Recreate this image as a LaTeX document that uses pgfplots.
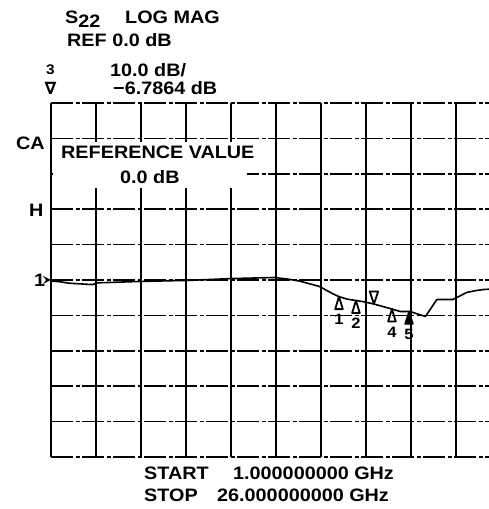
\documentclass[border=0pt]{standalone}
\usepackage{pgfplots}
\pgfplotsset{compat=1.18}
\usepackage{fontspec}
\setmainfont{Liberation Sans}[FakeStretch=1.1]
\newfontfamily\dejavu{DejaVu Sans}

% marker shapes: apex on the trace
\pgfdeclareplotmark{mkup}{%
  \pgfpathmoveto{\pgfpoint{0pt}{0pt}}%
  \pgfpathlineto{\pgfpoint{-3.8pt}{-12.5pt}}%
  \pgfpathlineto{\pgfpoint{3.8pt}{-12.5pt}}%
  \pgfpathclose\pgfusepathqstroke}
\pgfdeclareplotmark{mkupfill}{%
  \pgfpathmoveto{\pgfpoint{0pt}{0pt}}%
  \pgfpathlineto{\pgfpoint{-4pt}{-12.5pt}}%
  \pgfpathlineto{\pgfpoint{4pt}{-12.5pt}}%
  \pgfpathclose\pgfusepathqfillstroke}
\pgfdeclareplotmark{mkdown}{%
  \pgfpathmoveto{\pgfpoint{0pt}{0pt}}%
  \pgfpathlineto{\pgfpoint{-4.2pt}{12.5pt}}%
  \pgfpathlineto{\pgfpoint{4.2pt}{12.5pt}}%
  \pgfpathclose\pgfusepathqstroke}
\pgfdeclareplotmark{refarrow}{%
  \pgfpathmoveto{\pgfpoint{0pt}{0pt}}%
  \pgfpathlineto{\pgfpoint{-8pt}{4pt}}%
  \pgfpathlineto{\pgfpoint{-5pt}{0pt}}%
  \pgfpathlineto{\pgfpoint{-8pt}{-4pt}}%
  \pgfpathclose\pgfusepathqfill}

\begin{document}
\begin{tikzpicture}[every node/.style={inner sep=0pt, font=\fontsize{18}{21}\selectfont\bfseries}]
\path[use as bounding box] (0,0) rectangle (489pt,509pt);

\begin{axis}[
  at={(51pt,52pt)}, anchor=south west,
  scale only axis, width=438pt, height=354pt,
  xmin=1, xmax=25.3333, ymin=-50, ymax=50,
  xtick={1,3.5,6,8.5,11,13.5,16,18.5,21,23.5},
  ytick={-50,-40,-30,-20,-10,0,10,20,30,40,50},
  xticklabels={}, yticklabels={},
  major tick length=0pt,
  grid=major,
  axis line style={draw=none},
  x grid style={black, line width=2pt},
  y grid style={black, line width=1.7pt, dash pattern=on 22pt off 2.5pt on 4pt off 2.5pt},
  clip=false
]
% reference value box
\fill[white] (axis cs:1.12,26) rectangle (axis cs:11.9,39.1);

% S22 trace
\addplot[black, line width=1.6pt, line join=round] coordinates {
  (1.0,-0.3) (1.5,-0.5) (2.0,-0.9) (3.3,-1.3) (3.6,-0.8) (6.0,-0.4)
  (8.7,-0.1) (11.0,0.4) (13.4,0.7) (14.1,0.3) (14.8,-0.3) (15.9,-1.8)
  (16.7,-4.0) (17.0,-4.7) (17.45,-5.4) (17.94,-5.8) (18.33,-6.1)
  (18.94,-6.79) (19.44,-7.5) (19.94,-8.2) (20.4,-8.9) (20.94,-8.9)
  (21.8,-10.3) (22.44,-5.5) (23.33,-5.5) (23.8,-4.3) (24.1,-3.5)
  (24.6,-3.0) (25.0,-2.7) (25.3333,-2.6)
};

% markers 1, 2, 4
\addplot[only marks, mark=mkup, mark options={black, line width=1.8pt, line join=round},
  nodes near coords, point meta=explicit symbolic,
  every node near coord/.append style={anchor=north, yshift=-17pt, font=\fontsize{15}{17}\selectfont\bfseries}]
  coordinates {(17.0,-4.7)[1] (17.94,-5.8)[2] (19.94,-8.2)[4]};
% active marker 5
\addplot[only marks, mark=mkupfill, mark options={black, fill=black, line width=1.4pt, line join=round},
  nodes near coords, point meta=explicit symbolic,
  every node near coord/.append style={anchor=north, yshift=-17pt, font=\fontsize{15}{17}\selectfont\bfseries}]
  coordinates {(20.89,-8.9)[5]};
% marker 3 above the trace
\addplot[only marks, mark=mkdown, mark options={black, line width=1.8pt, line join=round}]
  coordinates {(18.94,-6.79)};
% reference position arrow
\addplot[only marks, mark=refarrow, mark options={black}] coordinates {(1,0)};
\end{axis}

% header
\node[anchor=base west] at (65pt,485pt) {S\raisebox{-3.5pt}{22}};
\node[anchor=base west] at (125pt,485pt) {LOG MAG};
\node[anchor=base west] at (67pt,462pt) {REF 0.0 dB};
\node[anchor=base west] at (110pt,432pt) {10.0 dB/};
\node[anchor=base west] at (113pt,414pt) {−6.7864 dB};
\node[anchor=base, font=\fontsize{14}{16}\selectfont\bfseries] at (50.5pt,434pt) {3};
\node[anchor=base, font=\dejavu\fontsize{17}{19}\selectfont\bfseries] at (50.5pt,414pt) {∇};

% left labels
\node[anchor=base west] at (16pt,359pt) {CA};
\node[anchor=base west] at (61pt,350pt) {REFERENCE VALUE};
\node[anchor=base west] at (120pt,325pt) {0.0 dB};
\node[anchor=base west] at (29pt,292pt) {H};
\node[anchor=base west] at (34pt,222pt) {1};

% sweep limits
\node[anchor=base west] at (144pt,29pt) {START};
\node[anchor=base west] at (233pt,29pt) {1.000000000 GHz};
\node[anchor=base west] at (144pt,7pt) {STOP};
\node[anchor=base west] at (217pt,7pt) {26.000000000 GHz};
\end{tikzpicture}
\end{document}
